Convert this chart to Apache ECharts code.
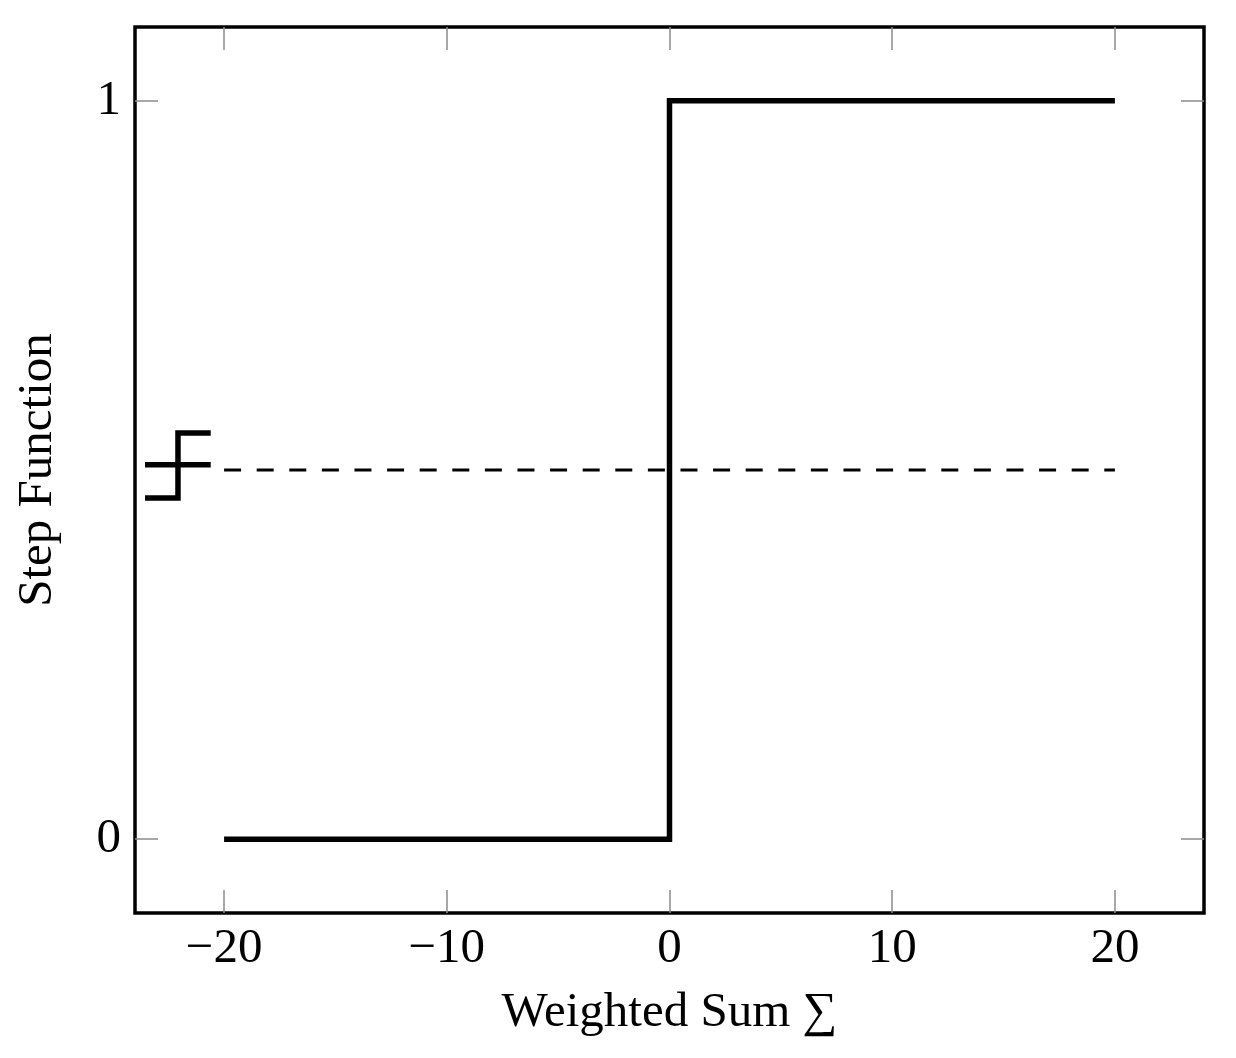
<!DOCTYPE html>
<html>
<head>
<meta charset="utf-8">
<script src="https://cdn.jsdelivr.net/npm/echarts@6/dist/echarts.min.js"></script>
<style>
html, body { margin: 0; padding: 0; background: #fff; }
#chart { width: 1236px; height: 1058px; }
</style>
</head>
<body>
<div id="chart"></div>
<script>
// data
var stepData = [[-20, 0], [0, 0], [0, 1], [20, 1]];
var halfLine = [[-20, 0.5], [20, 0.5]];
var markBar = [[-23.55, 0.507], [-20.6, 0.507]];
var markStep = [[-23.55, 0.462], [-22.07, 0.462], [-22.07, 0.55], [-20.6, 0.55]];
var xTicks = [-20, -10, 0, 10, 20];
var yTicks = [0, 1];

var font = 'Liberation Serif';
var tickStyle = {show: true, inside: true, length: 23, lineStyle: {color: '#8c8c8c', width: 1.5}};

function minus(v) {
    return String(v).replace('-', '\u2212');
}

var chart = echarts.init(document.getElementById('chart'));
var option = {
    animation: false,
    backgroundColor: '#fff',
    grid: {
        left: 135, right: 32, top: 27, bottom: 145,
        show: true, borderColor: '#000', borderWidth: 3.5
    },
    xAxis: [
        {
            type: 'value', min: -24, max: 24, position: 'bottom',
            axisLine: {show: false, onZero: false},
            splitLine: {show: false},
            axisTick: Object.assign({customValues: xTicks}, tickStyle),
            axisLabel: {
                customValues: xTicks, formatter: minus, margin: 12,
                fontFamily: font, fontSize: 49, color: '#000'
            },
            name: 'Weighted Sum \u2211', nameLocation: 'middle', nameGap: 76,
            nameTextStyle: {fontFamily: font, fontSize: 49, color: '#000'}
        },
        {
            type: 'value', min: -24, max: 24, position: 'top',
            axisLine: {show: false, onZero: false}, splitLine: {show: false},
            axisTick: Object.assign({customValues: xTicks}, tickStyle),
            axisLabel: {show: false}
        }
    ],
    yAxis: [
        {
            type: 'value', min: -0.1, max: 1.1, position: 'left',
            axisLine: {show: false, onZero: false},
            splitLine: {show: false},
            axisTick: Object.assign({customValues: yTicks}, tickStyle),
            axisLabel: {
                customValues: yTicks, margin: 14,
                fontFamily: font, fontSize: 49, color: '#000'
            },
            name: 'Step Function', nameLocation: 'middle', nameGap: 72,
            nameTextStyle: {fontFamily: font, fontSize: 49, color: '#000'}
        },
        {
            type: 'value', min: -0.1, max: 1.1, position: 'right',
            axisLine: {show: false, onZero: false}, splitLine: {show: false},
            axisTick: Object.assign({customValues: yTicks}, tickStyle),
            axisLabel: {show: false}
        }
    ],
    series: [
        {
            type: 'line', data: halfLine, showSymbol: false,
            lineStyle: {color: '#000', width: 3, type: [17, 15.6]}
        },
        {
            type: 'line', data: stepData, showSymbol: false,
            lineStyle: {color: '#000', width: 5.5, join: 'miter', cap: 'butt'}
        },
        {
            type: 'line', data: markBar, showSymbol: false,
            lineStyle: {color: '#000', width: 5.5, cap: 'butt'}
        },
        {
            type: 'line', data: markStep, showSymbol: false,
            lineStyle: {color: '#000', width: 5.5, join: 'miter', cap: 'butt'}
        }
    ]
};
chart.setOption(option);
</script>
</body>
</html>
